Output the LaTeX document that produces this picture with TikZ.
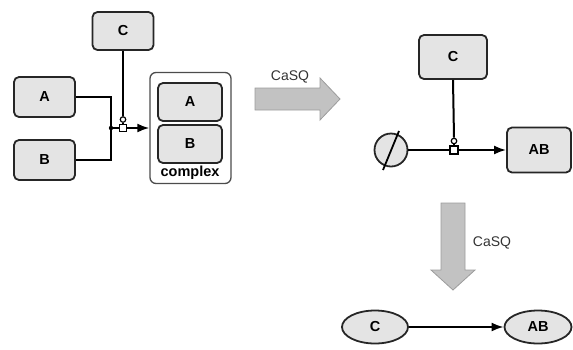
\documentclass[tikz,border=0pt]{standalone}
\usepackage{fontspec}
\setmainfont{Liberation Sans}
\usetikzlibrary{arrows.meta,shapes.geometric}
\definecolor{boxfill}{HTML}{E4E4E4}
\definecolor{bigfill}{HTML}{C2C2C2}
\definecolor{bigedge}{HTML}{9C9C9C}
\tikzset{
  species/.style={draw=black!85, line width=1.8pt, fill=boxfill, rounded corners=5pt,
    inner sep=0pt, font=\fontsize{14.5}{16}\selectfont\bfseries},
  cplxbox/.style={draw=black!70, line width=1.3pt, fill=white, rounded corners=6pt, inner sep=0pt},
  ellsp/.style={draw=black!85, line width=1.8pt, fill=boxfill, ellipse, inner sep=0pt,
    font=\fontsize{14.5}{16}\selectfont\bfseries},
  proc/.style={draw=black, line width=1.2pt, fill=white, rectangle, inner sep=0pt},
  modc/.style={draw=black, line width=1.2pt, fill=white, circle, inner sep=0pt, minimum size=5.5pt},
  wire/.style={line width=2pt, draw=black},
  arr/.style={wire, -{Latex[length=12pt,width=9pt]}},
  bigarrow/.style={fill=bigfill, draw=bigedge, line width=0.8pt, line join=miter},
  lbl/.style={font=\fontsize{14}{16}\selectfont, text=black!80}
}
\begin{document}
\begin{tikzpicture}[x=1pt,y=-1pt]
\useasboundingbox (0,0) rectangle (573,349);
% ---------- left: association ----------
\node[species, minimum width=61pt, minimum height=38pt] (C1) at (123,31) {C};
\node[species, minimum width=61pt, minimum height=40pt] (A1) at (44.5,97) {A};
\node[species, minimum width=61pt, minimum height=40pt] (B1) at (44.5,160) {B};
\node[cplxbox, minimum width=81pt, minimum height=111pt] (cplx) at (190.5,128) {};
\node[species, minimum width=64pt, minimum height=38pt] (A2) at (190,102) {A};
\node[species, minimum width=64pt, minimum height=38pt] (B2) at (190,144) {B};
\node[font=\fontsize{14.5}{16}\selectfont\bfseries] (cx) at (190,173) {complex};
\coordinate (jn) at (111,128);
\node[proc, minimum size=7pt] (sq1) at (123,128) {};
\node[modc] (mc1) at (123,119.5) {};
\draw[wire] (A1.east) -| (jn);
\draw[wire] (B1.east) -| (jn);
\fill (jn) circle (2.2pt);
\draw[wire] (jn) -- (sq1.west);
\draw[wire] (C1.south) -- (mc1.north);
\draw[wire] (mc1.south) -- (sq1.north);
\draw[arr] (sq1.east) -- (cplx.west);
% ---------- big right arrow ----------
\filldraw[bigarrow] (255,88) -- (320,88) -- (320,78) -- (340,99) -- (320,120) -- (320,110) -- (255,110) -- cycle;
\node[lbl] (l1) at (290,77) {CaSQ};
% ---------- right: reduced ----------
\node[species, minimum width=68pt, minimum height=44pt] (C3) at (453,57) {C};
\node[species, minimum width=64pt, minimum height=45pt] (AB) at (539,150) {AB};
\node[circle, draw=black!85, fill=boxfill, line width=1.8pt, minimum size=33pt, inner sep=0pt] (es) at (391,150) {};
\draw[line width=1.8pt] (383,170) -- (399,131);
\node[proc, minimum size=8pt] (sq2) at (454,150) {};
\node[modc] (mc2) at (454,141) {};
\draw[wire] (es.east) -- (sq2.west);
\draw[wire] (C3.south) -- (mc2.north);
\draw[wire] (mc2.south) -- (sq2.north);
\draw[arr] (sq2.east) -- (AB.west);
% ---------- big down arrow ----------
\filldraw[bigarrow] (441,203) -- (465,203) -- (465,270) -- (475,270) -- (453,290) -- (431,270) -- (441,270) -- cycle;
\node[lbl] (l2) at (492,243) {CaSQ};
% ---------- bottom: influence ----------
\node[ellsp, minimum width=66pt, minimum height=33pt] (Ce) at (375,327) {C};
\node[ellsp, minimum width=67pt, minimum height=33pt] (ABe) at (538,327) {AB};
\draw[arr] (Ce.east) -- (ABe.west);
\end{tikzpicture}
\end{document}
